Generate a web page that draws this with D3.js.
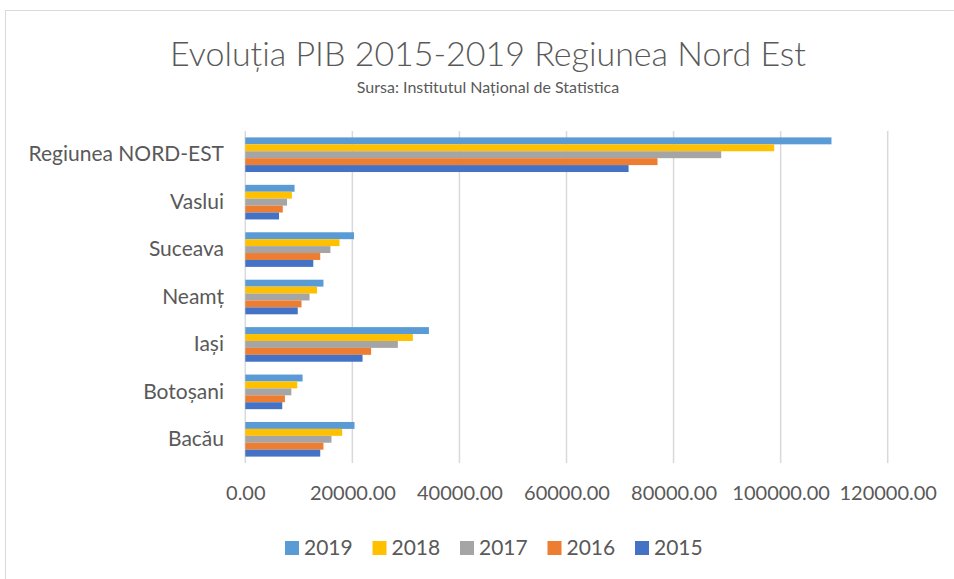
<!DOCTYPE html>
<html lang="ro">
<head>
  <meta charset="UTF-8">
  <title>Evolutia PIB 2015-2019 Regiunea Nord Est</title>
  <script src="https://cdn.jsdelivr.net/npm/d3@7"></script>
  <style>
    body { margin: 0; background: #fff; }
    text { font-family: Lato, "Open Sans", sans-serif; fill: #595959; }
  </style>
</head>
<body>
<script>
  // data (PIB, mil. lei)
  const categories = ["Regiunea NORD-EST", "Vaslui", "Suceava", "Neamț", "Iași", "Botoșani", "Bacău"];
  const years = ["2019", "2018", "2017", "2016", "2015"];
  const colors = ["#5B9BD5", "#FFC000", "#A5A5A5", "#ED7D31", "#4472C4"];
  const v2019 = [109500, 9200, 20300, 14600, 34300, 10700, 20400];
  const v2018 = [98800, 8700, 17600, 13400, 31300, 9700, 18100];
  const v2017 = [88900, 7800, 15900, 12000, 28500, 8600, 16100];
  const v2016 = [77000, 7000, 14000, 10500, 23500, 7400, 14600];
  const v2015 = [71600, 6300, 12700, 9800, 21900, 6900, 14000];
  const xTicks = [0, 20000, 40000, 60000, 80000, 100000, 120000];

  const series = [v2019, v2018, v2017, v2016, v2015];

  const width = 954, height = 579;
  const svg = d3.select("body").append("svg")
    .attr("width", width)
    .attr("height", height);

  // chart frame
  svg.append("rect")
    .attr("x", 5.5).attr("y", 10.5)
    .attr("width", 960).attr("height", 600)
    .attr("fill", "none")
    .attr("stroke", "#d9d9d9");

  svg.append("text")
    .attr("x", 488).attr("y", 66)
    .attr("text-anchor", "middle")
    .style("font-size", "34px")
    .style("font-weight", 300)
    .text("Evoluția PIB 2015-2019 Regiunea Nord Est");

  svg.append("text")
    .attr("x", 488).attr("y", 93)
    .attr("text-anchor", "middle")
    .style("font-size", "16px")
    .text("Sursa: Institutul Național de Statistica");

  const x = d3.scaleLinear().domain([0, 120000]).range([245.3, 887.7]);
  const y = d3.scaleBand().domain(categories).range([131, 463])
    .paddingInner(0.27).paddingOuter(0.135);
  const yIn = d3.scaleBand().domain(years).range([0, y.bandwidth()]);

  // gridlines
  svg.append("g")
    .selectAll("line")
    .data(xTicks)
    .join("line")
    .attr("x1", d => x(d)).attr("x2", d => x(d))
    .attr("y1", 131).attr("y2", 463)
    .attr("stroke", "#d9d9d9")
    .attr("stroke-width", 1.5);

  // bars
  categories.forEach((c, i) => {
    svg.append("g")
      .selectAll("rect")
      .data(years)
      .join("rect")
      .attr("x", x(0))
      .attr("y", yr => y(c) + yIn(yr))
      .attr("width", (yr, j) => x(series[j][i]) - x(0))
      .attr("height", yIn.bandwidth())
      .attr("fill", (yr, j) => colors[j]);
  });

  // x axis labels
  const xAxis = svg.append("g")
    .attr("transform", "translate(0, 483)")
    .call(d3.axisBottom(x).tickValues(xTicks).tickFormat(d3.format(".2f")).tickSize(0));
  xAxis.select(".domain").remove();
  xAxis.selectAll("text")
    .attr("dy", "0.71em")
    .style("font-size", "20px")
    .attr("fill", null);

  // category labels
  const yAxis = svg.append("g")
    .attr("transform", "translate(234, 0)")
    .call(d3.axisLeft(y).tickSize(0).tickPadding(10));
  yAxis.select(".domain").remove();
  yAxis.selectAll("text")
    .style("font-size", "21px")
    .attr("fill", null);

  // legend
  const legend = svg.append("g")
    .selectAll("g")
    .data(years)
    .join("g")
    .attr("transform", (d, i) => `translate(${285 + i * 87.5}, 541)`);
  legend.append("rect")
    .attr("width", 14).attr("height", 14)
    .attr("fill", (d, i) => colors[i]);
  legend.append("text")
    .attr("x", 19).attr("y", 13.5)
    .style("font-size", "21px")
    .text(d => d);
</script>
</body>
</html>
